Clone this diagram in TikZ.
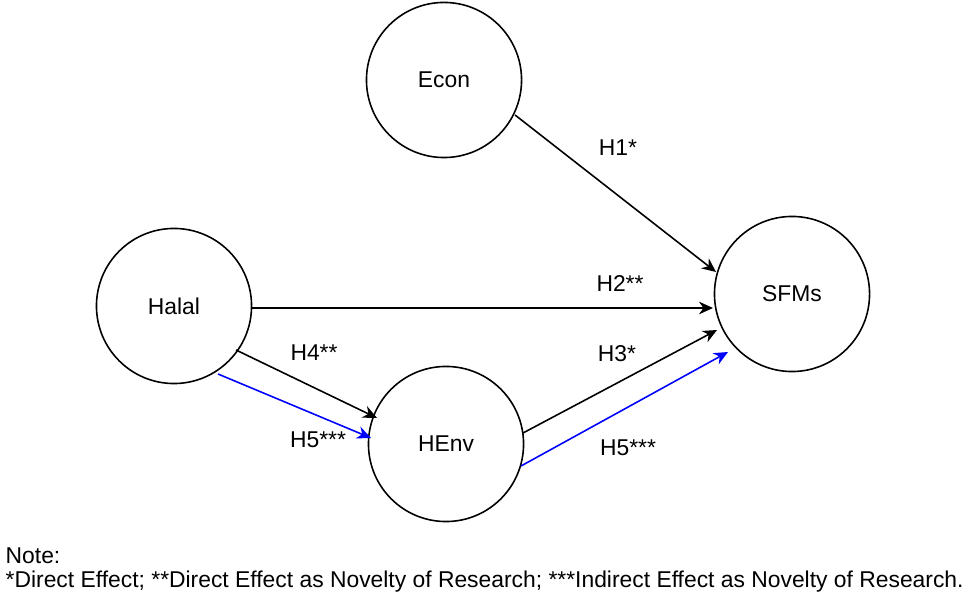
\documentclass[tikz,border=0pt]{standalone}
\usepackage{fontspec}
\setmainfont{Liberation Sans}
\usetikzlibrary{arrows.meta}
\begin{document}
\begin{tikzpicture}[x=0.01cm,y=-0.01cm,
  var/.style={draw,circle,minimum size=1.55cm,inner sep=0pt,line width=0.45pt,font=\fontsize{6.5}{7.5}\selectfont},
  lab/.style={font=\fontsize{6.5}{7.5}\selectfont},
  arr/.style={-{Stealth[length=4pt,width=3.6pt]},line width=0.45pt},
  blu/.style={arr,blue}]
\useasboundingbox (0,0) rectangle (977,601);
\node[var] (econ) at (444,80) {Econ};
\node[var] (halal) at (174,306) {Halal};
\node[var] (henv) at (446,444) {HEnv};
\node[var] (sfms) at (792,294) {SFMs};
\coordinate (a1) at (515,115); \coordinate (b1) at (716,272);
\coordinate (a2) at (252,308); \coordinate (b2) at (713,308);
\coordinate (a3) at (236,350); \coordinate (b3) at (377,418);
\coordinate (a4) at (218,374); \coordinate (b4) at (371,438);
\coordinate (a5) at (523,433); \coordinate (b5) at (717,330);
\coordinate (a6) at (521,466); \coordinate (b6) at (728,352);
\draw[arr] (a1) -- (b1);
\draw[arr] (a2) -- (b2);
\draw[arr] (a3) -- (b3);
\draw[blu] (a4) -- (b4);
\draw[arr] (a5) -- (b5);
\draw[blu] (a6) -- (b6);
\node[lab] (h1) at (618,148) {H1*};
\node[lab] (h2) at (620,284) {H2**};
\node[lab] (h3) at (617,354) {H3*};
\node[lab] (h4) at (314,353) {H4**};
\node[lab] (h5a) at (318,440) {H5***};
\node[lab] (h5b) at (628,448) {H5***};
\node[lab,anchor=west,inner sep=0pt] (n1) at (5,556) {Note:};
\node[lab,anchor=west,inner sep=0pt] (n2) at (5,582) {*Direct Effect; **Direct Effect as Novelty of Research; ***Indirect Effect as Novelty of Research.};
\end{tikzpicture}
\end{document}
